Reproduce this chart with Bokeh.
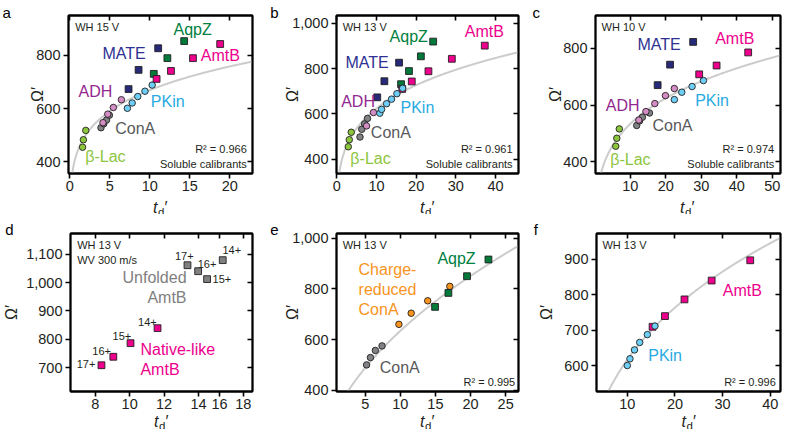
import numpy as np
from bokeh.plotting import figure
from bokeh.models import (Range1d, FixedTicker, NumeralTickFormatter, LinearAxis, Label,
                          CustomJSTickFormatter)
from bokeh.layouts import row, column
from bokeh.embed import file_html
from bokeh.resources import INLINE

FONT = "Liberation Sans"
INK = "#231F20"

# ---------------- data ----------------
# panel a (WH 15 V)
a_blac_x = [1.6, 1.7, 2.0];            a_blac_y = [455, 483, 518]
a_cona_x = [3.9, 4.25, 4.6, 4.95];     a_cona_y = [528, 543, 557, 575]
a_adh_x = [4.15, 4.75, 5.45, 6.45];    a_adh_y = [547, 579, 604, 633]
a_pkin_x = [7.2, 7.8, 8.5, 9.4, 10.3]; a_pkin_y = [601, 621, 645, 665, 688]
a_mate_x = [7.35, 8.6, 11.05];         a_mate_y = [673, 745, 826]
a_aqpz_x = [10.5, 12.2, 14.3];         a_aqpz_y = [730, 789, 853]
a_amtb_x = [10.85, 12.65, 15.4, 18.8]; a_amtb_y = [711, 741, 789, 842]

# panel b (WH 13 V)
b_blac_x = [2.9, 3.15, 3.65];          b_blac_y = [455, 486, 519]
b_cona_x = [5.85, 6.3, 7.0, 7.75];     b_cona_y = [498, 532, 556, 580]
b_adh_x = [7.5, 9.25];                 b_adh_y = [547, 606]
b_pkin_x = [10.85, 11.3, 12.55, 13.8, 15.15, 16.6]; b_pkin_y = [603, 620, 645, 665, 689, 713]
b_mate_x = [10.2, 12.0, 15.7];         b_mate_y = [673, 744, 826]
b_aqpz_x = [16.2, 18.2, 21.2, 24.3];   b_aqpz_y = [731, 789, 854, 919]
b_amtb_x = [16.5, 18.9, 23.1, 29.0, 37.3]; b_amtb_y = [710, 743, 788, 843, 901]

# panel c (WH 10 V)
c_blac_x = [5.9, 6.2, 6.9];            c_blac_y = [455, 483, 516]
c_cona_x = [11.8, 12.6, 13.4, 15.4];   c_cona_y = [528, 544, 557, 572]
c_adh_x = [12.4, 14.4, 16.9, 19.9, 22.4]; c_adh_y = [547, 577, 605, 633, 658]
c_pkin_x = [22.4, 24.5, 27.4, 30.6];   c_pkin_y = [619, 645, 665, 686]
c_mate_x = [17.7, 21.2, 27.7];         c_mate_y = [670, 742, 822]
c_amtb_x = [29.4, 34.3, 43.2];         c_amtb_y = [708, 739, 785]

# panel d (WH 13 V, WV 300 m/s)
d_native_x = [8.36, 9.05, 10.05, 11.62];     d_native_y = [708, 738, 786, 839]
d_unfolded_x = [13.36, 13.98, 14.5, 15.41];  d_unfolded_y = [1061, 1040, 1012, 1079]
d_charges = ["17+", "16+", "15+", "14+"]
d_xtick_pos = [8, 10, 12, 14, 15.22, 16.6]
d_xtick_lab = ["8", "10", "12", "14", "16", "18"]

# panel e (WH 13 V)
e_cona_x = [5.2, 5.75, 6.45, 7.4];       e_cona_y = [500, 529, 557, 575]
e_crcona_x = [9.8, 11.55, 13.9, 17.05];  e_crcona_y = [660, 704, 753, 810]
e_aqpz_x = [14.95, 16.85, 19.5, 22.55];  e_aqpz_y = [729, 784, 850, 916]

# panel f (WH 13 V)
f_pkin_x = [10.0, 10.55, 11.5, 12.6, 14.2, 15.8]; f_pkin_y = [601, 620, 645, 666, 688, 712]
f_amtb_x = [15.3, 17.9, 22.0, 27.7, 35.8];        f_amtb_y = [710, 740, 787, 840, 897]

# calibration fits  Omega' = A * (td' - x0) ** B
fit_a = (442.0, 0.18, 0.0)
fit_b = (376.0, 0.22, 0.0)
fit_c = (318.0, 0.225, 0.0)
fit_e = (190.0, 0.485, -2.0)
fit_f = (304.5, 0.307, 0.0)

r2_a, r2_b, r2_c, r2_e, r2_f = "0.966", "0.961", "0.974", "0.995", "0.996"

# ---------------- colours ----------------
C_BLAC, T_BLAC = "#8CC63E", "#8CC63E"
C_CONA, T_CONA = "#808285", "#58595B"
C_ADH, T_ADH = "#D48CC4", "#92278F"
C_PKIN, T_PKIN = "#6DCFF6", "#27AAE1"
C_MATE, T_MATE = "#262A78", "#2E3192"
C_AQPZ, T_AQPZ = "#00793A", "#00803E"
C_AMTB, T_AMTB = "#EC008C", "#EC008C"
C_ORNG, T_ORNG = "#F7941D", "#F7941D"
C_UNF, T_UNF = "#808080", "#808080"
C_FIT = "#CCCCCC"


def to_data(P, px, py):
    L, R, T, B = P["box"]
    x0, x1 = P["xr"]
    y0, y1 = P["yr"]
    return (x0 + (px - L) / (R - L) * (x1 - x0),
            y1 - (py - T) / (B - T) * (y1 - y0))


def txt(p, P, px, py, s, color, size, align="left", baseline="middle",
        style="normal", angle=0.0, place=None):
    x, y = to_data(P, px, py)
    lab = Label(x=x, y=y, text=s, text_color=color, text_font=FONT,
                text_font_size=f"{size}px", text_align=align,
                text_baseline=baseline, text_font_style=style, angle=angle)
    if place is None:
        p.add_layout(lab)
    else:
        p.add_layout(lab, place)


def style_axis(ax, ticks, tin, tout, show, comma=False, overrides=None):
    ax.ticker = FixedTicker(ticks=ticks)
    ax.axis_line_color = "black"
    ax.axis_line_width = 1.8
    ax.major_tick_line_color = "black"
    ax.major_tick_line_width = 1.6
    ax.major_tick_in = tin
    ax.major_tick_out = tout
    ax.minor_tick_line_color = None
    ax.major_label_text_font = FONT
    ax.major_label_text_color = INK
    if show:
        ax.major_label_text_font_size = "14.5px"
        if comma:
            ax.formatter = NumeralTickFormatter(format="0,0")
        if overrides:
            ax.major_label_overrides = overrides
    else:
        ax.formatter = CustomJSTickFormatter(code="return ''")
        ax.major_label_text_font_size = "0px"
        ax.major_label_standoff = 0


def make_panel(fx, fy, w, h, P, xticks, yticks, comma, om_standoff, xover=None):
    L, R, T, B = P["box"]
    p = figure(width=w, height=h, x_range=Range1d(*P["xr"]), y_range=Range1d(*P["yr"]),
               output_backend="svg", toolbar_location=None,
               min_border_left=L - fx, min_border_right=fx + w - R,
               min_border_top=T - fy, min_border_bottom=fy + h - B,
               background_fill_color="white", border_fill_color="white")
    p.grid.visible = False
    p.outline_line_color = "black"
    p.outline_line_width = 1.8
    style_axis(p.xaxis[0], xticks, 0, 5, True, overrides=xover)
    p.xaxis[0].major_label_standoff = 2
    style_axis(p.yaxis[0], yticks, 0, 5, True, comma)
    p.yaxis[0].major_label_standoff = 3
    ya = p.yaxis[0]
    ya.axis_label = "Ω′"
    ya.axis_label_text_font = FONT
    ya.axis_label_text_font_size = "16px"
    ya.axis_label_text_font_style = "normal"
    ya.axis_label_text_color = INK
    ya.axis_label_standoff = om_standoff
    top = LinearAxis()
    style_axis(top, xticks, 5, 0, False)
    right = LinearAxis()
    style_axis(right, yticks, 5, 0, False)
    p.add_layout(top, "above")
    p.add_layout(right, "right")
    return p


def fit_line(p, P, fit):
    A, Bx, x0 = fit
    lo = max(P["xr"][0], x0 + 0.05)
    xs = np.linspace(lo, P["xr"][1], 300)
    ys = A * (xs - x0) ** Bx
    p.line(xs, ys, line_color=C_FIT, line_width=2)


def pts(p, xs, ys, color, marker):
    p.scatter(xs, ys, marker=marker, size=6.8 if marker == "square" else 6.5,
              fill_color=color, line_color=INK, line_width=0.9)


def outer_labels(p, P, letter, lx, ly, letter_place, tdx, tdb, td_place, sub=4):
    txt(p, P, lx, ly, letter, "black", 15, baseline="alphabetic", place=letter_place)
    txt(p, P, tdx - 7.5, tdb, "t", INK, 16, baseline="alphabetic", style="italic", place=td_place)
    txt(p, P, tdx - 2.5, tdb + sub, "d", INK, 11.5, baseline="alphabetic", place=td_place)
    txt(p, P, tdx + 4.0, tdb, "′", INK, 16, baseline="alphabetic", place=td_place)


# ---------------- panel geometry (page pixels of each plot box) ----------------
PA = dict(box=(76, 260, 23, 181), xr=(-0.16, 22.84), yr=(356.4, 948.9))
PB = dict(box=(342, 526, 23, 181), xr=(-0.07, 45.8), yr=(337.0, 1034.0))
PC = dict(box=(603, 788, 23, 181), xr=(0.2, 52.3), yr=(359.0, 915.0))
PD = dict(box=(76, 260, 241, 399), xr=(6.56, 17.14), yr=(615.4, 1173.0))
PE = dict(box=(342, 526, 241, 399), xr=(0.915, 26.83), yr=(395.0, 1018.6))
PF = dict(box=(603, 788, 241, 399), xr=(3.53, 42.15), yr=(528.0, 972.3))

# ---------------- panel a ----------------
pa = make_panel(8, 8, 260, 214, PA, [0, 5, 10, 15, 20], [400, 600, 800], False, -13)
fit_line(pa, PA, fit_a)
pts(pa, a_blac_x, a_blac_y, C_BLAC, "circle")
pts(pa, a_cona_x, a_cona_y, C_CONA, "circle")
pts(pa, a_adh_x, a_adh_y, C_ADH, "circle")
pts(pa, a_pkin_x, a_pkin_y, C_PKIN, "circle")
pts(pa, a_mate_x, a_mate_y, C_MATE, "square")
pts(pa, a_aqpz_x, a_aqpz_y, C_AQPZ, "square")
pts(pa, a_amtb_x, a_amtb_y, C_AMTB, "square")
outer_labels(pa, PA, "a", 10, 20, "left", 168, 215, "left")
txt(pa, PA, 82.7, 34.3, "WH 15 V", INK, 11)
txt(pa, PA, 181, 36.7, "AqpZ", T_AQPZ, 16)
txt(pa, PA, 110, 60.7, "MATE", T_MATE, 16)
txt(pa, PA, 208.3, 62.7, "AmtB", T_AMTB, 16)
txt(pa, PA, 86, 99, "ADH", T_ADH, 16)
txt(pa, PA, 158.3, 109.3, "PKin", T_PKIN, 16)
txt(pa, PA, 122.7, 135.7, "ConA", T_CONA, 16)
txt(pa, PA, 92.7, 164, "β-Lac", T_BLAC, 16)
txt(pa, PA, 254.3, 156, "R² = " + r2_a, INK, 11, align="right")
txt(pa, PA, 254.3, 171, "Soluble calibrants", INK, 11, align="right")

# ---------------- panel b ----------------
pb = make_panel(268, 8, 262, 214, PB, [0, 10, 20, 30, 40], [400, 600, 800, 1000], True, -12)
fit_line(pb, PB, fit_b)
pts(pb, b_blac_x, b_blac_y, C_BLAC, "circle")
pts(pb, b_cona_x, b_cona_y, C_CONA, "circle")
pts(pb, b_adh_x, b_adh_y, C_ADH, "circle")
pts(pb, b_mate_x, b_mate_y, C_MATE, "square")
pts(pb, b_aqpz_x, b_aqpz_y, C_AQPZ, "square")
pts(pb, b_amtb_x, b_amtb_y, C_AMTB, "square")
pts(pb, b_pkin_x, b_pkin_y, C_PKIN, "circle")
outer_labels(pb, PB, "b", 275, 20, "left", 434, 215, "left")
txt(pb, PB, 348.3, 34, "WH 13 V", INK, 11)
txt(pb, PB, 395.7, 44.3, "AqpZ", T_AQPZ, 16)
txt(pb, PB, 471.7, 39.3, "AmtB", T_AMTB, 16)
txt(pb, PB, 351, 70, "MATE", T_MATE, 16)
txt(pb, PB, 346.7, 109, "ADH", T_ADH, 16)
txt(pb, PB, 406.7, 115, "PKin", T_PKIN, 16)
txt(pb, PB, 376.7, 140, "ConA", T_CONA, 16)
txt(pb, PB, 356, 165.7, "β-Lac", T_BLAC, 16)
txt(pb, PB, 520, 156, "R² = " + r2_b, INK, 11, align="right")
txt(pb, PB, 520, 171, "Soluble calibrants", INK, 11, align="right")

# ---------------- panel c ----------------
pc = make_panel(530, 8, 262, 214, PC, [0, 10, 20, 30, 40, 50], [400, 600, 800], False, -4)
fit_line(pc, PC, fit_c)
pts(pc, c_blac_x, c_blac_y, C_BLAC, "circle")
pts(pc, c_cona_x, c_cona_y, C_CONA, "circle")
pts(pc, c_adh_x, c_adh_y, C_ADH, "circle")
pts(pc, c_pkin_x, c_pkin_y, C_PKIN, "circle")
pts(pc, c_mate_x, c_mate_y, C_MATE, "square")
pts(pc, c_amtb_x, c_amtb_y, C_AMTB, "square")
outer_labels(pc, PC, "c", 540, 20, "left", 695, 215, "left")
txt(pc, PC, 609, 34.3, "WH 10 V", INK, 11)
txt(pc, PC, 645, 52.3, "MATE", T_MATE, 16)
txt(pc, PC, 722.7, 45.7, "AmtB", T_AMTB, 16)
txt(pc, PC, 613.3, 113.3, "ADH", T_ADH, 16)
txt(pc, PC, 702.7, 108.3, "PKin", T_PKIN, 16)
txt(pc, PC, 660, 133.3, "ConA", T_CONA, 16)
txt(pc, PC, 617.7, 166.7, "β-Lac", T_BLAC, 16)
txt(pc, PC, 781.7, 156, "R² = " + r2_c, INK, 11, align="right")
txt(pc, PC, 781.7, 171, "Soluble calibrants", INK, 11, align="right")

# ---------------- panel d ----------------
pd_ = make_panel(8, 222, 268, 215, PD, d_xtick_pos, [700, 800, 900, 1000, 1100], True, 3,
                 xover={t: s for t, s in zip(d_xtick_pos, d_xtick_lab)})
pts(pd_, d_unfolded_x, d_unfolded_y, C_UNF, "square")
pts(pd_, d_native_x, d_native_y, C_AMTB, "square")
outer_labels(pd_, PD, "d", 10, 237, "above", 168, 429, "right")
txt(pd_, PD, 82.7, 252.7, "WH 13 V", INK, 11)
txt(pd_, PD, 82.7, 267.3, "WV 300 m/s", INK, 11)
txt(pd_, PD, 193.3, 285, "Unfolded", T_UNF, 16, align="right")
txt(pd_, PD, 193.3, 305, "AmtB", T_UNF, 16, align="right")
txt(pd_, PD, 146.7, 356.7, "Native-like", T_AMTB, 16)
txt(pd_, PD, 146.7, 376.7, "AmtB", T_AMTB, 16)
for lab, (px, py) in zip(d_charges, [(191, 263.3), (214, 271), (229, 286.7), (239, 257.7)]):
    txt(pd_, PD, px, py, lab, INK, 11, align="center")
for lab, (px, py) in zip(d_charges, [(91.7, 371), (107.5, 358.3), (128, 343.3), (153.7, 329)]):
    txt(pd_, PD, px, py, lab, INK, 11, align="center")

# ---------------- panel e ----------------
pe = make_panel(276, 222, 254, 215, PE, [5, 10, 15, 20, 25], [400, 600, 800, 1000], True, -12)
fit_line(pe, PE, fit_e)
pts(pe, e_cona_x, e_cona_y, C_CONA, "circle")
pts(pe, e_crcona_x, e_crcona_y, C_ORNG, "circle")
pts(pe, e_aqpz_x, e_aqpz_y, C_AQPZ, "square")
outer_labels(pe, PE, "e", 275, 237, "above", 434, 429, "left")
txt(pe, PE, 348.3, 252.7, "WH 13 V", INK, 11)
txt(pe, PE, 364.3, 276.7, "Charge-", T_ORNG, 16)
txt(pe, PE, 364.3, 296.7, "reduced", T_ORNG, 16)
txt(pe, PE, 364.3, 316.7, "ConA", T_ORNG, 16)
txt(pe, PE, 444, 265.7, "AqpZ", T_AQPZ, 16)
txt(pe, PE, 385.7, 375, "ConA", T_CONA, 16)
txt(pe, PE, 522.7, 389, "R² = " + r2_e, INK, 11, align="right")

# ---------------- panel f ----------------
pf = make_panel(530, 222, 262, 215, PF, [10, 20, 30, 40], [600, 700, 800, 900], False, 6)
fit_line(pf, PF, fit_f)
pts(pf, f_amtb_x, f_amtb_y, C_AMTB, "square")
pts(pf, f_pkin_x, f_pkin_y, C_PKIN, "circle")
outer_labels(pf, PF, "f", 540, 237, "above", 696, 429, "left")
txt(pf, PF, 609, 252.7, "WH 13 V", INK, 11)
txt(pf, PF, 730, 298.3, "AmtB", T_AMTB, 16)
txt(pf, PF, 655, 363.3, "PKin", T_PKIN, 16)
txt(pf, PF, 783.3, 389, "R² = " + r2_f, INK, 11, align="right")

layout = column(row(pa, pb, pc), row(pd_, pe, pf))
open("out.html", "w").write(file_html(layout, INLINE))
